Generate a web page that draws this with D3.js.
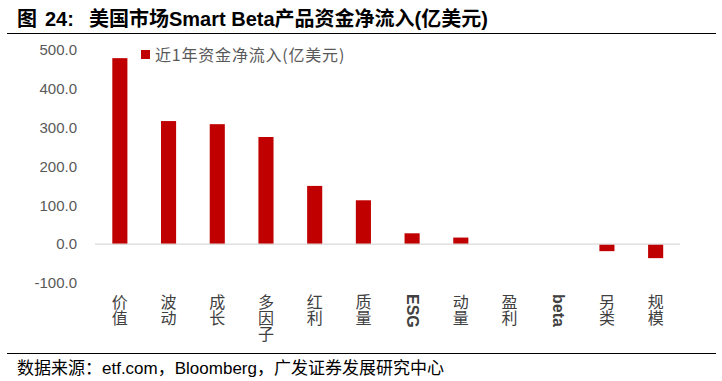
<!DOCTYPE html>
<html><head><meta charset="utf-8">
<script src="https://cdn.jsdelivr.net/npm/d3@7"></script>
<style>
body{margin:0;background:#fff;}
svg{display:block;font-family:"Liberation Sans",Arial,sans-serif;}
</style></head>
<body><svg id="c" width="722" height="381"></svg>
<script>
const categories = ["价值","波动","成长","多因子","红利","质量","ESG","动量","盈利","beta","另类","规模"];
const values = [479, 317, 309, 276, 150, 113, 28, 17, 0, 0, -18, -36];
const yTicks = [-100, 0, 100, 200, 300, 400, 500];
const seriesName = "近1年资金净流入(亿美元)";
const titleParts = ["图", "24:", "美国市场Smart Beta产品资金净流入(亿美元)"];
const source = "数据来源：etf.com，Bloomberg，广发证券发展研究中心";

const svg = d3.select("#c");
const x = d3.scaleBand().domain(categories).range([95.5, 680]).paddingInner(0.69).paddingOuter(0.345);
const y = d3.scaleLinear().domain([-100, 500]).range([283, 50]);

// title
const t = svg.append("text").attr("y", 26).attr("font-size", 20).attr("font-weight", "bold")
  .attr("font-family", "'Liberation Sans','Noto Sans CJK SC',sans-serif").attr("fill", "#000");
const tx = [17, 45, 89];
titleParts.forEach((p, i) => t.append("tspan").attr("x", tx[i]).text(p));
svg.append("line").attr("x1", 7).attr("x2", 716).attr("y1", 33.5).attr("y2", 33.5).attr("stroke", "#000").attr("stroke-width", 1.2);

// y axis labels
const yAxis = d3.axisLeft(y).tickValues(yTicks).tickFormat(d => d.toFixed(1)).tickSize(0).tickPadding(0);
const ga = svg.append("g").attr("transform", "translate(77,0)").call(yAxis);
ga.select(".domain").remove();
ga.selectAll("text").attr("font-size", 15).attr("fill", "#595959").attr("font-family", "'Liberation Sans',Arial,sans-serif");

// bars
svg.append("g").selectAll("rect").data(values).join("rect")
  .attr("x", (d, i) => x(categories[i]))
  .attr("width", x.bandwidth())
  .attr("y", d => y(Math.max(0, d)))
  .attr("height", d => Math.abs(y(d) - y(0)))
  .attr("fill", "#C00000");

// zero line
svg.append("line").attr("x1", 95).attr("x2", 680).attr("y1", y(0)).attr("y2", y(0))
  .attr("stroke", "#d9d9d9").attr("stroke-width", 1.3);

// category labels (vertical)
svg.append("g").selectAll("text").data(categories).join("text")
  .attr("x", d => x(d) + x.bandwidth() / 2)
  .attr("y", 294)
  .style("writing-mode", "vertical-rl")
  .attr("font-size", 16)
  .attr("font-family", d => /^[A-Za-z]+$/.test(d) ? "'Liberation Sans',Arial,sans-serif" : "'Noto Sans CJK SC',sans-serif")
  .attr("font-weight", d => /^[A-Za-z]+$/.test(d) ? "bold" : "normal")
  .attr("fill", "#404040")
  .text(d => d);

// legend
svg.append("rect").attr("x", 141).attr("y", 50).attr("width", 9).attr("height", 9).attr("fill", "#C00000");
svg.append("text").attr("x", 155).attr("y", 61).attr("font-size", 16).attr("letter-spacing", 0.8).attr("fill", "#595959")
  .attr("font-family", "'Noto Sans CJK SC',sans-serif").text(seriesName);

// footer
svg.append("line").attr("x1", 7).attr("x2", 716).attr("y1", 353.5).attr("y2", 353.5).attr("stroke", "#000").attr("stroke-width", 1.2);
svg.append("text").attr("x", 17).attr("y", 374).attr("font-size", 17).attr("fill", "#000")
  .attr("font-family", "'Liberation Sans','Noto Sans CJK SC',sans-serif").text(source);
</script></body></html>
